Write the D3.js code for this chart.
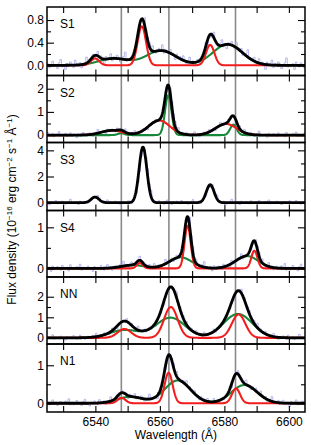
<!DOCTYPE html>
<html>
<head>
<meta charset="utf-8">
<script src="https://cdn.jsdelivr.net/npm/d3@7"></script>
<style>
body { margin: 0; background: #fff; }
svg { display: block; }
text { font-family: "Liberation Sans", Arial, Helvetica, sans-serif; font-size: 12px; fill: #000; }
</style>
</head>
<body>
<div id="chart"></div>
<script>
// ---- data ----
const waveDomain = [6525, 6605];
const xTickValues = [6530, 6540, 6550, 6560, 6570, 6580, 6590, 6600];
const xLabelValues = [6540, 6560, 6580, 6600];
const restLines = [6548.05, 6562.8, 6583.45];

const panelNames = ["S1", "S2", "S3", "S4", "NN", "N1"];
const yRanges = [[-0.18, 1.03], [-0.32, 2.57], [-0.6, 4.6], [-0.21, 1.41], [-0.3, 2.96], [-0.23, 1.56]];
const yMajor = [[0, 0.4, 0.8], [0, 1, 2], [0, 2, 4], [0, 1], [0, 1, 2], [0, 1]];
const yMinor = [[0.2, 0.6], [0.5, 1.5], [1, 3], [0.5], [0.5, 1.5], [0.5]];
const yFormats = [".1f", "d", "d", "d", "d", "d"];

// fitted line components: [centre (Å), peak, sigma (Å)]
const redComps = [
    [[6539.9, 0.12, 1.3], [6554.4, 0.69, 1.3], [6575.6, 0.36, 1.3]],
    [[6545.1, 0.20, 3.3], [6559.8, 0.63, 3.3], [6580.5, 0.48, 3.3]],
    [[6539.9, 0.43, 1.2], [6554.75, 4.25, 1.2], [6575.6, 1.37, 1.2]],
    [[6553.8, 0.13, 0.95], [6568.6, 1.04, 0.95], [6589.3, 0.43, 0.95]],
    [[6549.0, 0.43, 2.1], [6563.4, 1.50, 2.1], [6584.4, 1.14, 2.1]],
    [[6548.1, 0.14, 1.25], [6562.7, 0.80, 1.25], [6583.6, 0.39, 1.25]]
];
const greenComps = [
    [[6545.6, 0.12, 4.6], [6560.35, 0.26, 4.6], [6581.0, 0.37, 4.6]],
    [[6548.0, 0.08, 1.0], [6562.6, 1.72, 1.0], [6582.8, 0.45, 1.0]],
    [],
    [[6551.6, 0.08, 3.5], [6566.4, 0.27, 3.5], [6587.0, 0.30, 3.5]],
    [[6549.0, 0.38, 4.5], [6563.3, 0.98, 4.5], [6584.2, 1.16, 4.5]],
    [[6550.8, 0.17, 4.0], [6565.5, 0.60, 4.0], [6586.2, 0.48, 4.0]]
];
const showComps = [true, true, false, true, true, true];

// observed spectrum: residual pattern (read roughly) and per-panel noise level
const residuals = [2, -3, 1, 5, -1, 0, -4, 3, 7, -2, 1, -5, 2, 0, 4, -1, -3, 6, 1, -2, 3, -4, 0, 2, 8, -1, -2, 1, 4, -3,
    0, 5, -2, 2, -1, -6, 3, 1, 0, 6, -3, 2, -1, 4, 1, -4, 0, 3, 9, -2, 1, -1, 2, -5, 4, 0, -2, 3, 1, -3,
    5, -1, 0, 2, -4, 6, 1, -2, 0, 3, -1, 7, -3, 2, 0, -2, 4, -1, 1, -5, 3, 0, 2, -2, 5, 1, -3, 0, 6, -1,
    2, -4, 1, 3, -2, 0, 4, -1, 8, -3];
const noiseLevel = [0.13, 0.17, 0.26, 0.13, 0.19, 0.13];

// ---- layout ----
const W = 311, H = 445;
const left = 47, right = 305;
const panelEdges = [7, 75.5, 142.5, 210.5, 277, 344, 412];

const x = d3.scaleLinear().domain(waveDomain).range([left, right]);
const fineGrid = d3.range(waveDomain[0], waveDomain[1] + 0.001, 0.1);
const dataGrid = d3.range(waveDomain[0], waveDomain[1] + 0.001, 0.5);

function profile(lam, comps) {
    return d3.sum(comps, c => c[1] * Math.exp(-((lam - c[0]) ** 2) / (2 * c[2] * c[2])));
}

const svg = d3.select("#chart").append("svg")
    .attr("width", W)
    .attr("height", H);

// rest-frame line markers across all panels
svg.append("g").selectAll("line")
    .data(restLines)
    .join("line")
    .attr("x1", d => x(d)).attr("x2", d => x(d))
    .attr("y1", panelEdges[0]).attr("y2", panelEdges[6])
    .attr("stroke", "#8a8a8a")
    .attr("stroke-width", 1.6);

panelNames.forEach((name, i) => {
    const top = panelEdges[i], bot = panelEdges[i + 1];
    const y = d3.scaleLinear().domain(yRanges[i]).range([bot, top]);
    const line = d3.line().x(d => x(d[0])).y(d => y(d[1]));

    svg.append("clipPath").attr("id", "clip" + i)
        .append("rect")
        .attr("x", left).attr("y", top)
        .attr("width", right - left).attr("height", bot - top);

    const plot = svg.append("g").attr("clip-path", `url(#clip${i})`);

    const allComps = redComps[i].concat(greenComps[i]);
    const obs = dataGrid.map((l, k) => [l, profile(l, allComps) + residuals[(k + i * 17) % residuals.length] / 9 * noiseLevel[i]]);

    plot.append("path")
        .datum(obs)
        .attr("d", d3.line().x(d => x(d[0])).y(d => y(d[1])).curve(d3.curveStepAfter))
        .attr("fill", "none")
        .attr("stroke", "#a6a6ec")
        .attr("stroke-width", 0.8);

    if (showComps[i]) {
        plot.append("path")
            .datum(fineGrid.map(l => [l, profile(l, greenComps[i])]))
            .attr("d", line)
            .attr("fill", "none")
            .attr("stroke", "#17873a")
            .attr("stroke-width", 2.1);
        plot.append("path")
            .datum(fineGrid.map(l => [l, profile(l, redComps[i])]))
            .attr("d", line)
            .attr("fill", "none")
            .attr("stroke", "#f21d1d")
            .attr("stroke-width", 2.1);
    }

    plot.append("path")
        .datum(fineGrid.map(l => [l, profile(l, allComps)]))
        .attr("d", line)
        .attr("fill", "none")
        .attr("stroke", "#000")
        .attr("stroke-width", 2.8)
        .attr("stroke-linejoin", "round");

    // x ticks, inward at top and bottom
    svg.append("g").attr("transform", `translate(0,${top})`)
        .call(d3.axisBottom(x).tickValues(xTickValues).tickSize(6).tickFormat(""))
        .call(g => g.select(".domain").remove());
    svg.append("g").attr("transform", `translate(0,${bot})`)
        .call(d3.axisTop(x).tickValues(xTickValues).tickSize(6).tickFormat(""))
        .call(g => g.select(".domain").remove());

    // y ticks, inward on both sides
    svg.append("g").attr("transform", `translate(${left},0)`)
        .call(d3.axisRight(y).tickValues(yMajor[i]).tickSize(7).tickFormat(""))
        .call(g => g.select(".domain").remove());
    svg.append("g").attr("transform", `translate(${left},0)`)
        .call(d3.axisRight(y).tickValues(yMinor[i]).tickSize(4).tickFormat(""))
        .call(g => g.select(".domain").remove());
    svg.append("g").attr("transform", `translate(${right},0)`)
        .call(d3.axisLeft(y).tickValues(yMajor[i]).tickSize(7).tickFormat(""))
        .call(g => g.select(".domain").remove());
    svg.append("g").attr("transform", `translate(${right},0)`)
        .call(d3.axisLeft(y).tickValues(yMinor[i]).tickSize(4).tickFormat(""))
        .call(g => g.select(".domain").remove());

    // y labels
    svg.append("g").attr("transform", `translate(${left},0)`)
        .call(d3.axisLeft(y).tickValues(yMajor[i]).tickSize(0).tickPadding(3).tickFormat(d3.format(yFormats[i])))
        .call(g => g.select(".domain").remove())
        .call(g => g.selectAll("text").style("font-size", "12px").style("font-family", "Liberation Sans, Arial, sans-serif"));

    svg.selectAll(".tick line").attr("stroke-width", 1.1);

    // frame
    svg.append("rect")
        .attr("x", left).attr("y", top)
        .attr("width", right - left).attr("height", bot - top)
        .attr("fill", "none")
        .attr("stroke", "#000")
        .attr("stroke-width", 1.5);

    svg.append("text")
        .attr("x", 60)
        .attr("y", top + 21)
        .text(name);
});

// x tick labels under bottom panel
svg.append("g").attr("transform", `translate(0,${panelEdges[6]})`)
    .call(d3.axisBottom(x).tickValues(xLabelValues).tickSize(0).tickPadding(5).tickFormat(d3.format("d")))
    .call(g => g.select(".domain").remove())
    .call(g => g.selectAll("text").style("font-size", "12px").style("font-family", "Liberation Sans, Arial, sans-serif"));

svg.append("text")
    .attr("x", (left + right) / 2)
    .attr("y", 439)
    .attr("text-anchor", "middle")
    .text("Wavelength (Å)");

const yTitle = svg.append("text")
    .attr("transform", `translate(16,${(panelEdges[0] + panelEdges[6]) / 2}) rotate(-90)`)
    .attr("text-anchor", "middle");
const parts = [["Flux density (10", false], ["−16", true], [" erg cm", false], ["−2", true], [" s", false], ["−1", true], [" Å", false], ["−1", true], [")", false]];
parts.forEach(([t, sup], k) => {
    const prevSup = k > 0 && parts[k - 1][1];
    yTitle.append("tspan")
        .attr("dy", sup ? -4.5 : (prevSup ? 4.5 : 0))
        .style("font-size", sup ? "8px" : "12px")
        .text(t);
});
</script>
</body>
</html>
